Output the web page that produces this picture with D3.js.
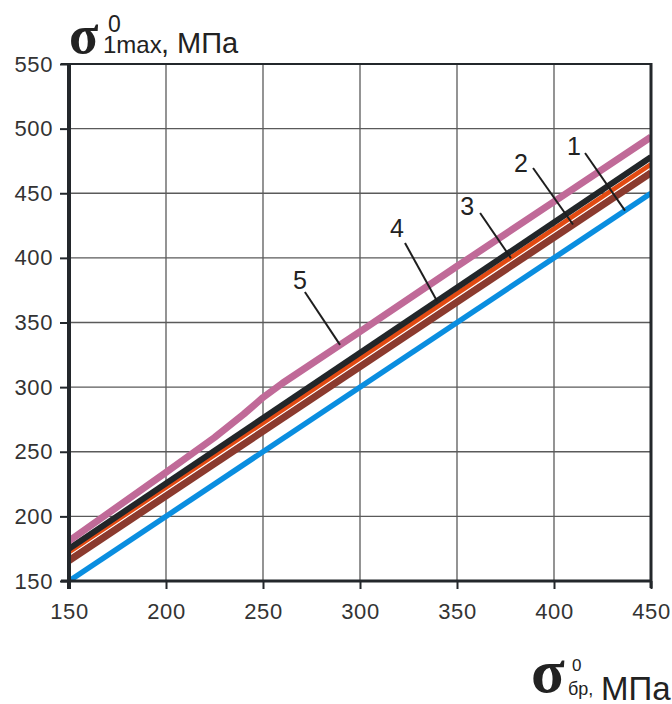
<!DOCTYPE html>
<html>
<head>
<meta charset="utf-8">
<script src="https://cdn.jsdelivr.net/npm/d3@7"></script>
<style>
  html, body { margin: 0; padding: 0; background: #fff; }
  svg { display: block; }
</style>
</head>
<body>
<svg id="chart" width="672" height="704"></svg>
<script>
// Breaking stress (x) against peak principal stress (y), five curves.
const xTicks = [150, 200, 250, 300, 350, 400, 450];
const yTicks = [150, 200, 250, 300, 350, 400, 450, 500, 550];

const xs1 = [150, 450];
const ys1 = [150, 450];                       // curve 1
const xs2 = [150, 450];
const ys2 = [166, 466];                       // curve 2
const xs3 = [150, 450];
const ys3 = [172, 472];                       // curve 3
const xs4 = [150, 450];
const ys4 = [175, 478];                       // curve 4
const xs5 = [150, 200, 225, 240, 250, 260, 300, 350, 400, 450];
const ys5 = [181, 234, 261, 279, 292, 303, 343, 393.5, 443.5, 493.5]; // curve 5

const seriesNames = ["1", "2", "3", "4", "5"];
const seriesColors = ["#0a8ee0", "#8b3a2e", "#e24a12", "#222629", "#c06a98"];
const seriesWidths = [5.5, 7.5, 5.5, 6, 7];

// label anchors and leader lines in data units; leader ends on the curve at leadEndX
const labelX = [410.3, 383.0, 355.2, 319.1, 269.1];
const labelY = [479.6, 466.4, 433.2, 416.2, 375.9];
const leadStartX = [416.0, 389.2, 361.9, 323.2, 271.6];
const leadStartY = [481.1, 469.5, 434.7, 411.5, 373.6];
const leadEndX = [436.6, 409.8, 377.8, 339.7, 289.7];

const svg = d3.select("#chart");
const x = d3.scaleLinear().domain([150, 450]).range([69, 651]);
const y = d3.scaleLinear().domain([150, 550]).range([581, 64]);

const series = [
  xs1.map((v, i) => [v, ys1[i]]),
  xs2.map((v, i) => [v, ys2[i]]),
  xs3.map((v, i) => [v, ys3[i]]),
  xs4.map((v, i) => [v, ys4[i]]),
  xs5.map((v, i) => [v, ys5[i]])
];

const tickFont = "'Liberation Sans', Arial, sans-serif";

// grid
const grid = svg.append("g");
grid.selectAll("line.vx").data(xTicks.slice(1, -1)).join("line")
  .attr("x1", d => x(d)).attr("x2", d => x(d))
  .attr("y1", y(550)).attr("y2", y(150))
  .attr("stroke", "#5a5a5a").attr("stroke-width", 1.3);
grid.selectAll("line.hy").data(yTicks.slice(1, -1)).join("line")
  .attr("x1", x(150)).attr("x2", x(450))
  .attr("y1", d => y(d)).attr("y2", d => y(d))
  .attr("stroke", "#5a5a5a").attr("stroke-width", 1.3);

// curves
svg.append("clipPath").attr("id", "plotClip").append("rect")
  .attr("x", x(150)).attr("y", y(550))
  .attr("width", x(450) - x(150)).attr("height", y(150) - y(550));

const line = d3.line().x(d => x(d[0])).y(d => y(d[1]));
const plot = svg.append("g").attr("clip-path", "url(#plotClip)");
[0, 1, 2, 3, 4].forEach(i => {
  plot.append("path").datum(series[i])
    .attr("d", line)
    .attr("fill", "none")
    .attr("stroke", seriesColors[i])
    .attr("stroke-width", seriesWidths[i])
    .attr("stroke-linejoin", "round");
  if (i === 2) {
    // thin white edge along the lower side of curve 3
    plot.append("path").datum(series[i])
      .attr("d", line)
      .attr("transform", "translate(0,3)")
      .attr("fill", "none")
      .attr("stroke", "#fff")
      .attr("stroke-width", 1.1);
  }
});

// frame
const frame = svg.append("g").attr("stroke", "#23272b").attr("fill", "none");
frame.append("line").attr("x1", 61).attr("x2", x(450) + 1).attr("y1", y(550)).attr("y2", y(550)).attr("stroke-width", 2);
frame.append("line").attr("x1", x(450)).attr("x2", x(450)).attr("y1", y(550) - 1).attr("y2", y(150) + 7).attr("stroke-width", 3);
frame.append("line").attr("x1", x(150)).attr("x2", x(150)).attr("y1", y(550) - 1).attr("y2", y(150) + 8).attr("stroke-width", 4);
frame.append("line").attr("x1", 61).attr("x2", x(450) + 1).attr("y1", y(150)).attr("y2", y(150)).attr("stroke-width", 3);

// axes ticks via d3 axes
const yAxis = d3.axisLeft(y).tickValues(yTicks).tickSize(8).tickPadding(7).tickFormat(d3.format("d"));
const xAxis = d3.axisBottom(x).tickValues(xTicks).tickSize(8).tickPadding(14).tickFormat(d3.format("d"));

const gy = svg.append("g").attr("transform", `translate(${x(150) - 1},0)`).call(yAxis);
const gx = svg.append("g").attr("transform", `translate(0,${y(150)})`).call(xAxis);
[gy, gx].forEach(g => {
  g.select(".domain").remove();
  g.selectAll(".tick line").attr("stroke", "#23272b").attr("stroke-width", 2);
  g.selectAll(".tick text")
    .attr("fill", "#333")
    .style("font-family", tickFont)
    .style("font-size", "22px")
    .style("letter-spacing", "0.6px");
});

// curve labels with leader lines
function valueAt(pts, xv) {
  for (let k = 0; k < pts.length - 1; k++) {
    const a = pts[k], b = pts[k + 1];
    if (xv >= a[0] && xv <= b[0]) return a[1] + (b[1] - a[1]) * (xv - a[0]) / (b[0] - a[0]);
  }
  return pts[pts.length - 1][1];
}
const ann = svg.append("g");
seriesNames.forEach((name, i) => {
  ann.append("line")
    .attr("x1", x(leadStartX[i])).attr("y1", y(leadStartY[i]))
    .attr("x2", x(leadEndX[i])).attr("y2", y(valueAt(series[i], leadEndX[i])))
    .attr("stroke", "#1e1e1e").attr("stroke-width", 2);
  ann.append("text")
    .attr("x", x(labelX[i])).attr("y", y(labelY[i]))
    .attr("text-anchor", "middle")
    .attr("fill", "#222")
    .style("font-family", tickFont)
    .style("font-size", "25px")
    .text(name);
});

// axis titles
const serif = "'Liberation Serif', 'DejaVu Serif', serif";
const yt = svg.append("g").attr("fill", "#222");
yt.append("text").attr("x", 69).attr("y", 53).style("font-family", serif).style("font-size", "54px").style("font-weight", "bold").text("σ");
yt.append("text").attr("x", 108).attr("y", 32).style("font-family", tickFont).style("font-size", "23px").text("0");
yt.append("text").attr("x", 103).attr("y", 53).style("font-family", tickFont).style("font-size", "24px").text("1max");
yt.append("text").attr("x", 161).attr("y", 53).style("font-family", tickFont).style("font-size", "29px").text(", МПа");

const xt = svg.append("g").attr("fill", "#222");
xt.append("text").attr("x", 531).attr("y", 692).style("font-family", serif).style("font-size", "62px").style("font-weight", "bold").text("σ");
xt.append("text").attr("x", 572).attr("y", 671).style("font-family", tickFont).style("font-size", "17px").text("0");
xt.append("text").attr("x", 568).attr("y", 695).style("font-family", tickFont).style("font-size", "18px").text("бр,");
xt.append("text").attr("x", 601).attr("y", 700).style("font-family", tickFont).style("font-size", "33px").text("МПа");
</script>
</body>
</html>
